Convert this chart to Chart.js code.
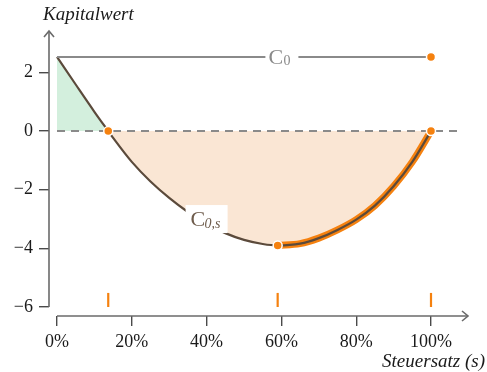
<!DOCTYPE html>
<html>
<head>
<meta charset="utf-8">
<script src="https://cdn.jsdelivr.net/npm/chart.js@4"></script>
<style>
  html, body { margin: 0; padding: 0; background: #fff; }
  #wrap { width: 487px; height: 372px; }
</style>
</head>
<body>
<div id="wrap"><canvas id="c" width="487" height="372"></canvas></div>
<script>
// Net present value after tax, as a function of the tax rate s (in %)
const taxRates    = [0, 5, 10, 13.7, 15, 20, 25, 30, 35, 40, 45, 50, 55, 59, 65, 70, 75, 80, 85, 90, 95, 100];
const npvAfterTax = [2.53, 1.59, 0.66, 0, -0.23, -1.05, -1.72, -2.28, -2.76, -3.16, -3.48, -3.71, -3.85, -3.90, -3.84, -3.65, -3.37, -3.02, -2.54, -1.88, -1.05, 0];
// Net present value without taxes
const npvBeforeTax = 2.53;
// Tax rates of interest: zero crossing, minimum, full taxation
const markedRates = [13.7, 59, 100];
const minimumRate = 59;

const xTickValues = [0, 20, 40, 60, 80, 100];
const xTickLabels = ['0%', '20%', '40%', '60%', '80%', '100%'];
const yTickValues = [-6, -4, -2, 0, 2];
const yTickLabels = ['\u22126', '\u22124', '\u22122', '0', '2'];

const ORANGE = '#f5810f';
const BROWN = '#5b4a3b';
const GREY = '#8a8a8a';
const SERIF = '"Liberation Serif", "DejaVu Serif", serif';

const curve = taxRates.map((s, i) => ({ x: s, y: npvAfterTax[i] }));
const falling = curve.filter(p => p.x >= minimumRate);
const pointAt = s => curve.find(p => p.x === s);
const specialPoints = [
  pointAt(markedRates[0]),
  pointAt(markedRates[1]),
  pointAt(markedRates[2]),
  { x: 100, y: npvBeforeTax }
];

const datasets = [
  { // shaded areas between the curve and zero
    data: curve, borderWidth: 0, pointRadius: 0, order: 10,
    cubicInterpolationMode: 'monotone',
    fill: { target: 'origin', above: '#d3efdd', below: '#fae6d4' }
  },
  { // zero line
    data: [{ x: 0, y: 0 }, { x: 108.4, y: 0 }],
    borderColor: GREY, borderWidth: 2, borderDash: [8, 6], pointRadius: 0, order: 9
  },
  { // highlighted falling part
    data: falling, borderColor: ORANGE, borderWidth: 7, pointRadius: 0, order: 8,
    cubicInterpolationMode: 'monotone', borderCapStyle: 'butt'
  },
  { // C0,s curve
    data: curve, borderColor: BROWN, borderWidth: 2.2, pointRadius: 0, order: 7,
    cubicInterpolationMode: 'monotone'
  },
  { // C0 line
    data: [{ x: 0, y: npvBeforeTax }, { x: 100, y: npvBeforeTax }],
    borderColor: GREY, borderWidth: 2, pointRadius: 0, order: 6
  }
];
markedRates.forEach(s => {
  datasets.push({
    data: [{ x: s, y: -6 }, { x: s, y: -5.52 }],
    borderColor: ORANGE, borderWidth: 2.2, pointRadius: 0, order: 5
  });
});
datasets.push({
  data: specialPoints, showLine: false, pointRadius: 4.5, pointHoverRadius: 4.5,
  pointBackgroundColor: ORANGE, pointBorderColor: '#ffffff', pointBorderWidth: 1.5, order: 1
});

const decorations = {
  id: 'decorations',
  beforeDatasetsDraw(chart) {
    const { ctx, chartArea, scales: { x, y } } = chart;
    ctx.save();
    ctx.strokeStyle = '#6a6a6a';
    ctx.lineWidth = 1.6;
    // vertical axis with arrow head
    const ax = chartArea.left, top = chartArea.top;
    ctx.beginPath();
    ctx.moveTo(ax, y.getPixelForValue(-6));
    ctx.lineTo(ax, top);
    ctx.stroke();
    ctx.beginPath();
    ctx.moveTo(ax - 5, top + 6); ctx.lineTo(ax, top); ctx.lineTo(ax + 5, top + 6);
    ctx.stroke();
    // horizontal axis with arrow head
    const by = chartArea.bottom, right = chartArea.right - 1;
    ctx.beginPath();
    ctx.moveTo(x.getPixelForValue(0), by);
    ctx.lineTo(right, by);
    ctx.stroke();
    ctx.beginPath();
    ctx.moveTo(right - 6, by - 5); ctx.lineTo(right, by); ctx.lineTo(right - 6, by + 5);
    ctx.stroke();
    ctx.restore();
  },
  afterDatasetsDraw(chart) {
    const { ctx, scales: { x, y } } = chart;
    ctx.save();
    // C0 label breaking the horizontal line
    const cx = x.getPixelForValue(60), cy = y.getPixelForValue(npvBeforeTax);
    ctx.fillStyle = '#fff';
    ctx.fillRect(cx - 16, cy - 12, 33, 24);
    ctx.fillStyle = GREY;
    ctx.textBaseline = 'alphabetic';
    ctx.textAlign = 'left';
    ctx.font = '22px ' + SERIF;
    ctx.fillText('C', cx - 13, cy + 7);
    ctx.font = '14px ' + SERIF;
    ctx.fillText('0', cx + 2, cy + 8);
    // C0,s label on the curve
    const lx = x.getPixelForValue(40), ly = y.getPixelForValue(-3.0);
    ctx.fillStyle = '#fff';
    ctx.fillRect(lx - 21, ly - 14, 42, 28);
    ctx.fillStyle = '#6e5c4c';
    ctx.font = '22px ' + SERIF;
    ctx.fillText('C', lx - 16, ly + 7);
    ctx.font = 'italic 14px ' + SERIF;
    ctx.fillText('0,s', lx - 2, ly + 9);
    // axis titles
    ctx.fillStyle = '#1a1a1a';
    ctx.font = 'italic 19px ' + SERIF;
    ctx.fillText('Kapitalwert', 43, 20);
    ctx.textAlign = 'right';
    ctx.fillText('Steuersatz (s)', 485, 367);
    ctx.restore();
  }
};

const tickFont = { family: SERIF, size: 18 };

new Chart(document.getElementById('c'), {
  type: 'line',
  data: { datasets },
  options: {
    responsive: false,
    animation: false,
    devicePixelRatio: 1,
    layout: { padding: { top: 31, right: 18, left: 0, bottom: 0 } },
    plugins: { legend: { display: false }, tooltip: { enabled: false } },
    events: [],
    scales: {
      x: {
        type: 'linear', min: -2.14, max: 110.16,
        afterFit(s) { s.height = 56; },
        afterBuildTicks(s) { s.ticks = xTickValues.map(v => ({ value: v })); },
        border: { display: false },
        grid: { drawOnChartArea: false, drawTicks: true, tickLength: 10, color: '#4a4a4a', lineWidth: 1.4 },
        ticks: {
          autoSkip: false, maxRotation: 0, padding: 5, color: '#1a1a1a', font: tickFont,
          callback: v => xTickLabels[xTickValues.indexOf(v)]
        }
      },
      y: {
        type: 'linear', min: -6.307, max: 3.415,
        afterFit(s) { s.width = 49; },
        afterBuildTicks(s) { s.ticks = yTickValues.map(v => ({ value: v })); },
        border: { display: false },
        grid: { drawOnChartArea: false, drawTicks: true, tickLength: 10, color: '#4a4a4a', lineWidth: 1.4 },
        ticks: {
          autoSkip: false, padding: 6, color: '#1a1a1a', font: tickFont,
          callback: v => yTickLabels[yTickValues.indexOf(v)]
        }
      }
    }
  },
  plugins: [decorations]
});
</script>
</body>
</html>
